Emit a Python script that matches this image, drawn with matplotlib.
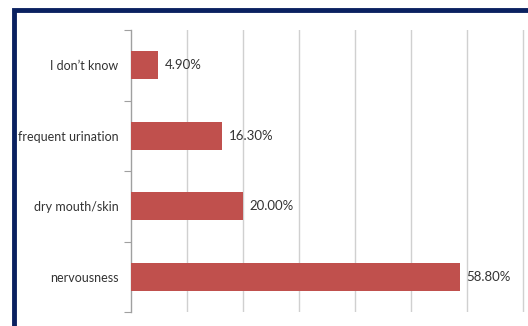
import matplotlib
matplotlib.use("Agg")
import matplotlib.pyplot as plt
from matplotlib.patches import Rectangle

categories = ["I don\u2019t know", "frequent urination", "dry mouth/skin", "nervousness"]
values = [4.90, 16.30, 20.00, 58.80]
value_labels = ["4.90%", "16.30%", "20.00%", "58.80%"]

W, H = 528, 326
fig = plt.figure(figsize=(W / 100, H / 100), dpi=100)
fig.patch.set_facecolor("white")

font = ["Lato", "DejaVu Sans"]

# navy frame around the chart area
fig.add_artist(Rectangle((14 / W, -0.1), 1.2, (H - 10) / H + 0.1,
                         transform=fig.transFigure, fill=False,
                         edgecolor="#0A2160", linewidth=3.5))

left, right = 131, 528
top, bottom = 30, 312
ax = fig.add_axes([left / W, 1 - bottom / H, (right - left) / W, (bottom - top) / H])
ax.set_xlim(0, (right - left) / 5.6)
ax.set_ylim(len(categories) - 0.5, -0.5)

ypos = list(range(len(categories)))
ax.barh(ypos, values, height=0.4, color="#C0504D", zorder=3)
for y, v, lab in zip(ypos, values, value_labels):
    ax.text(v + 1.1, y, lab, va="center", ha="left", fontsize=9.5,
            color="#333333", family=font, zorder=4)

ax.set_xticks([10, 20, 30, 40, 50, 60, 70])
ax.xaxis.grid(True, color="#D0D0D0", linewidth=1, zorder=0)
ax.tick_params(axis="x", length=0, labelbottom=False)

ax.set_yticks([y - 0.5 for y in ypos] + [len(categories) - 0.5], minor=False)
ax.set_yticklabels([])
ax.set_yticks(ypos, minor=True)
ax.set_yticklabels(categories, minor=True, fontsize=9, color="#333333", family=font)
ax.tick_params(axis="y", which="major", length=5, color="#A0A0A0", direction="out")
ax.tick_params(axis="y", which="minor", length=0, pad=9)

for s in ["top", "right", "bottom"]:
    ax.spines[s].set_visible(False)
ax.spines["left"].set_color("#A0A0A0")
ax.spines["left"].set_linewidth(1)

fig.savefig("out.png", dpi=100)
